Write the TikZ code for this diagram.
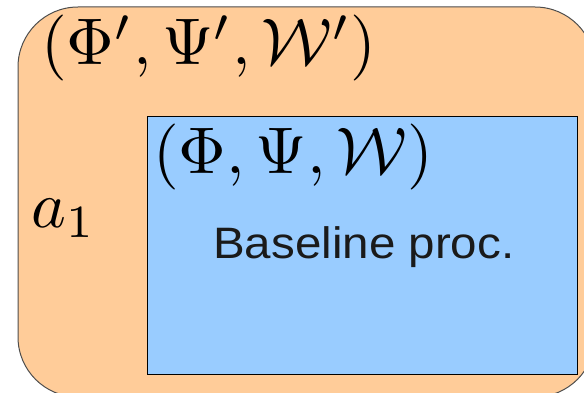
\documentclass[tikz,border=0pt]{standalone}
\usepackage{fontspec}
\newfontfamily\labelfont{Liberation Sans}
\definecolor{outerfill}{HTML}{FFCC99}
\definecolor{innerfill}{HTML}{99CCFF}
\definecolor{edgegray}{HTML}{4D4D4D}
\definecolor{textdark}{HTML}{1A1A1A}
\newcommand{\bigmath}[1]{\scalebox{6.6}{$#1$}}
\begin{document}
\begin{tikzpicture}[x=1pt,y=1pt,
  outerbox/.style={draw=edgegray,line width=1pt,fill=outerfill,rounded corners=60pt},
  innerbox/.style={draw=black,line width=1pt,fill=innerfill},
  mathlabel/.style={inner sep=0pt,anchor=base west},
  proclabel/.style={inner sep=0pt,anchor=base west,text=textdark,font=\labelfont\fontsize{44}{50}\selectfont}]
\useasboundingbox (0,0) rectangle (584,392);
\begin{scope}
\clip (0,0) rectangle (584,392);
\draw[outerbox] (18,-5) rectangle (595,385);
\draw[innerbox] (147,18) rectangle (577,276);
\end{scope}
\node[mathlabel] (outerlbl) at (41,327) {\bigmath{(\Phi',\Psi',\mathcal{W}')}};
\node[mathlabel] (innerlbl) at (153,218) {\bigmath{(\Phi,\Psi,\mathcal{W})}};
\node[mathlabel] (alabel) at (31,164) {\bigmath{a_1}};
\node[proclabel] (proc) at (213,134) {\scalebox{1.08}[1]{Baseline proc.}};
\end{tikzpicture}
\end{document}
